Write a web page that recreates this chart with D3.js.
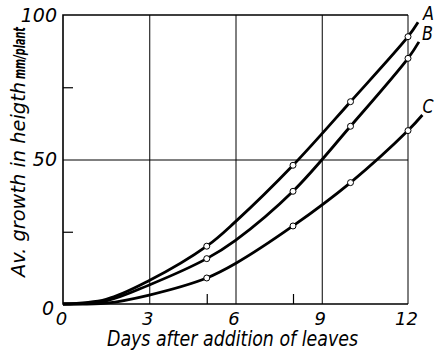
<!DOCTYPE html>
<html lang="en">
  <head>
    <meta charset="UTF-8" />
    <title>Growth in height after addition of leaves</title>
    <script src="https://d3js.org/d3.v7.min.js"></script>
    <style>
      body {
        margin: 0;
        background: #fff;
      }
      svg text {
        font-family: "DejaVu Sans", sans-serif;
        font-style: italic;
        fill: #000;
      }
      .curve {
        fill: none;
        stroke: #000;
        stroke-width: 2.8;
      }
      .dot {
        fill: #fff;
        stroke: #000;
        stroke-width: 1;
      }
    </style>
  </head>
  <body>
    <svg id="chart" width="438" height="351"></svg>
    <script>
      // values
      const seriesNames = ["A", "B", "C"];
      const lineDays = [0, 1.5, 3, 5, 6, 8, 10, 12];
      const growthA = [0, 1.6, 8.1, 20, 28.5, 48, 70, 92.5];
      const growthB = [0, 1.1, 6.6, 15.7, 22, 39, 61.5, 85];
      const growthC = [0, 0.3, 3.1, 9, 14, 27, 42, 60];
      // where each drawn curve runs out to its letter
      const endDays = [12.35, 12.38, 12.5];
      const endGrowth = [97.5, 90.7, 65.4];
      // measured points (circles)
      const markerDays = [5, 8, 10, 12];
      const markerA = [20, 48, 70, 92.5];
      const markerB = [15.7, 39, 61.5, 85];
      const markerC = [9, 27, 42, 60];

      const xTicks = [0, 3, 6, 9, 12];
      const yTicks = [0, 50, 100];
      const xMinor = [5, 8];
      const yMinor = [25, 75];

      const width = 438;
      const height = 351;
      const margin = { top: 15, right: 30, bottom: 47, left: 63 };

      const svg = d3.select("#chart");

      const x = d3.scaleLinear().domain([0, 12]).range([margin.left, width - margin.right]);
      const y = d3.scaleLinear().domain([0, 100]).range([height - margin.bottom, margin.top]);

      // grid lines
      svg
        .append("g")
        .attr("transform", `translate(0,${y(0)})`)
        .call(d3.axisBottom(x).tickValues([3, 6, 9]).tickSize(-(y(0) - y(100))).tickFormat(""))
        .call((g) => g.select(".domain").remove())
        .selectAll("line")
        .attr("stroke", "#000")
        .attr("stroke-width", 1);

      svg
        .append("g")
        .attr("transform", `translate(${x(0)},0)`)
        .call(d3.axisLeft(y).tickValues([50]).tickSize(-(x(12) - x(0))).tickFormat(""))
        .call((g) => g.select(".domain").remove())
        .selectAll("line")
        .attr("stroke", "#000")
        .attr("stroke-width", 1);

      // minor ticks pointing inwards
      svg
        .append("g")
        .attr("transform", `translate(${x(0)},0)`)
        .call(d3.axisLeft(y).tickValues(yMinor).tickSize(-10).tickFormat(""))
        .call((g) => g.select(".domain").remove())
        .selectAll("line")
        .attr("stroke-width", 1.2);

      svg
        .append("g")
        .attr("transform", `translate(0,${y(0)})`)
        .call(d3.axisBottom(x).tickValues(xMinor).tickSize(-10).tickFormat(""))
        .call((g) => g.select(".domain").remove())
        .selectAll("line")
        .attr("stroke-width", 1.2);

      // frame
      svg
        .append("path")
        .attr("d", `M${x(12)},${y(100)}H${x(0)}V${y(0)}H${x(12)}`)
        .attr("fill", "none")
        .attr("stroke", "#000")
        .attr("stroke-width", 1.6);
      svg
        .append("line")
        .attr("x1", x(12))
        .attr("x2", x(12))
        .attr("y1", y(100))
        .attr("y2", y(0))
        .attr("stroke", "#000")
        .attr("stroke-width", 1);

      // tick labels
      svg
        .append("g")
        .attr("transform", `translate(0,${y(0)})`)
        .call(d3.axisBottom(x).tickValues(xTicks).tickSize(0).tickPadding(8))
        .call((g) => g.select(".domain").remove())
        .selectAll("text")
        .attr("font-size", 18)
        .attr("dx", -2);

      svg
        .append("g")
        .attr("transform", `translate(${x(0)},0)`)
        .call(d3.axisLeft(y).tickValues(yTicks).tickSize(0).tickPadding(6))
        .call((g) => g.select(".domain").remove())
        .selectAll("text")
        .attr("font-size", 19)
        .attr("dy", (d) => (d === 0 ? "0.55em" : "0.32em"))
        .attr("dx", (d) => (d === 0 ? -3 : 0));

      // axis titles, squeezed to the narrow lettering of the original
      svg
        .append("text")
        .attr("x", 107)
        .attr("y", 346)
        .attr("font-size", 21)
        .attr("textLength", 251)
        .attr("lengthAdjust", "spacingAndGlyphs")
        .text("Days after addition of leaves");

      svg
        .append("text")
        .attr("transform", "translate(25,277) rotate(-90)")
        .attr("font-size", 20)
        .attr("textLength", 195)
        .attr("lengthAdjust", "spacingAndGlyphs")
        .text("Av. growth in heigth");
      svg
        .append("text")
        .attr("transform", "translate(25,79) rotate(-90)")
        .attr("font-style", "normal")
        .attr("font-weight", "bold")
        .attr("font-size", 15)
        .attr("textLength", 52)
        .attr("lengthAdjust", "spacingAndGlyphs")
        .text("mm/plant");

      // curves
      const lineSeries = [growthA, growthB, growthC];
      const markerSeries = [markerA, markerB, markerC];
      const labelShift = [5, 3, 0];

      const line = d3
        .line()
        .x((d) => x(d[0]))
        .y((d) => y(d[1]))
        .curve(d3.curveCatmullRom.alpha(0.5));

      seriesNames.forEach((name, i) => {
        const pts = lineDays.map((d, j) => [d, lineSeries[i][j]]);
        pts.push([endDays[i], endGrowth[i]]);
        svg.append("path").attr("class", "curve").attr("d", line(pts));

        svg
          .selectAll(`.dot-${name}`)
          .data(markerDays.map((d, j) => [d, markerSeries[i][j]]))
          .enter()
          .append("circle")
          .attr("class", `dot dot-${name}`)
          .attr("cx", (d) => x(d[0]))
          .attr("cy", (d) => y(d[1]))
          .attr("r", 3);

        svg
          .append("text")
          .attr("x", x(endDays[i]) + labelShift[i])
          .attr("y", y(endGrowth[i]) - 2)
          .attr("font-size", 19)
          .attr("textLength", 11)
          .attr("lengthAdjust", "spacingAndGlyphs")
          .text(name);
      });
    </script>
  </body>
</html>
